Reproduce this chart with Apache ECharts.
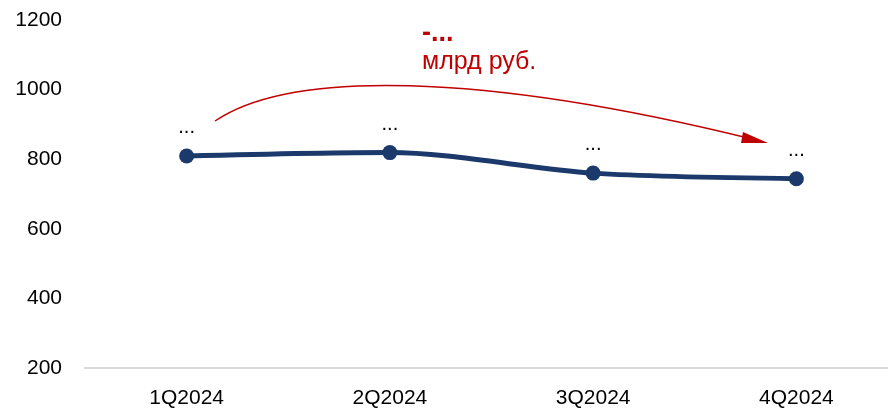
<!DOCTYPE html>
<html>
<head>
<meta charset="utf-8">
<script src="https://cdn.jsdelivr.net/npm/echarts@6/dist/echarts.min.js"></script>
<style>
  html, body { margin: 0; padding: 0; background: #fff; }
  #chart { width: 888px; height: 414px; }
</style>
</head>
<body>
<div id="chart"></div>
<script>
var categories = ['1Q2024', '2Q2024', '3Q2024', '4Q2024'];
var values = [809, 819, 760, 744];
var pointLabels = ['...', '...', '...', '...'];
var changeText = '-...';
var unitText = 'млрд руб.';

var myChart = echarts.init(document.getElementById('chart'));

var option = {
  backgroundColor: '#fff',
  animation: false,
  grid: {
    left: 85,
    top: 20,
    width: 813,
    height: 348,
    outerBoundsMode: 'none'
  },
  xAxis: {
    type: 'category',
    data: categories,
    boundaryGap: true,
    axisLine: { lineStyle: { color: '#d9d9d9', width: 2 } },
    axisTick: { show: false },
    axisLabel: {
      color: '#000',
      fontSize: 21,
      fontFamily: 'Liberation Sans',
      margin: 20
    }
  },
  yAxis: {
    type: 'value',
    min: 200,
    max: 1200,
    interval: 200,
    axisLine: { show: false },
    axisTick: { show: false },
    splitLine: { show: false },
    axisLabel: {
      color: '#000',
      fontSize: 21,
      fontFamily: 'Liberation Sans',
      margin: 23,
      formatter: function (v) { return String(v); }
    }
  },
  series: [{
    type: 'line',
    data: values,
    smooth: 0.3,
    symbol: 'circle',
    symbolSize: 15,
    itemStyle: { color: '#1b3a6b' },
    lineStyle: { color: '#1b3a6b', width: 5 },
    label: {
      show: true,
      position: 'top',
      distance: 11,
      color: '#000',
      fontSize: 20,
      fontFamily: 'Liberation Sans',
      formatter: function (p) { return pointLabels[p.dataIndex]; }
    }
  }],
  graphic: [
    {
      type: 'bezierCurve',
      shape: { x1: 215, y1: 121, cpx1: 290, cpy1: 70, cpx2: 480, cpy2: 72, x2: 752, y2: 139 },
      style: { stroke: '#c00000', lineWidth: 1.5, fill: null }
    },
    {
      type: 'polygon',
      shape: { points: [[743, 132], [741, 143], [768, 143]] },
      style: { fill: '#c00000' }
    },
    {
      type: 'text',
      left: 422,
      top: 20,
      style: { text: changeText, fill: '#c00000', font: 'bold 27px "Liberation Sans"' }
    },
    {
      type: 'text',
      left: 422,
      top: 50,
      style: { text: unitText, fill: '#c00000', font: '25px "Liberation Sans"' }
    }
  ]
};

myChart.setOption(option);
</script>
</body>
</html>
